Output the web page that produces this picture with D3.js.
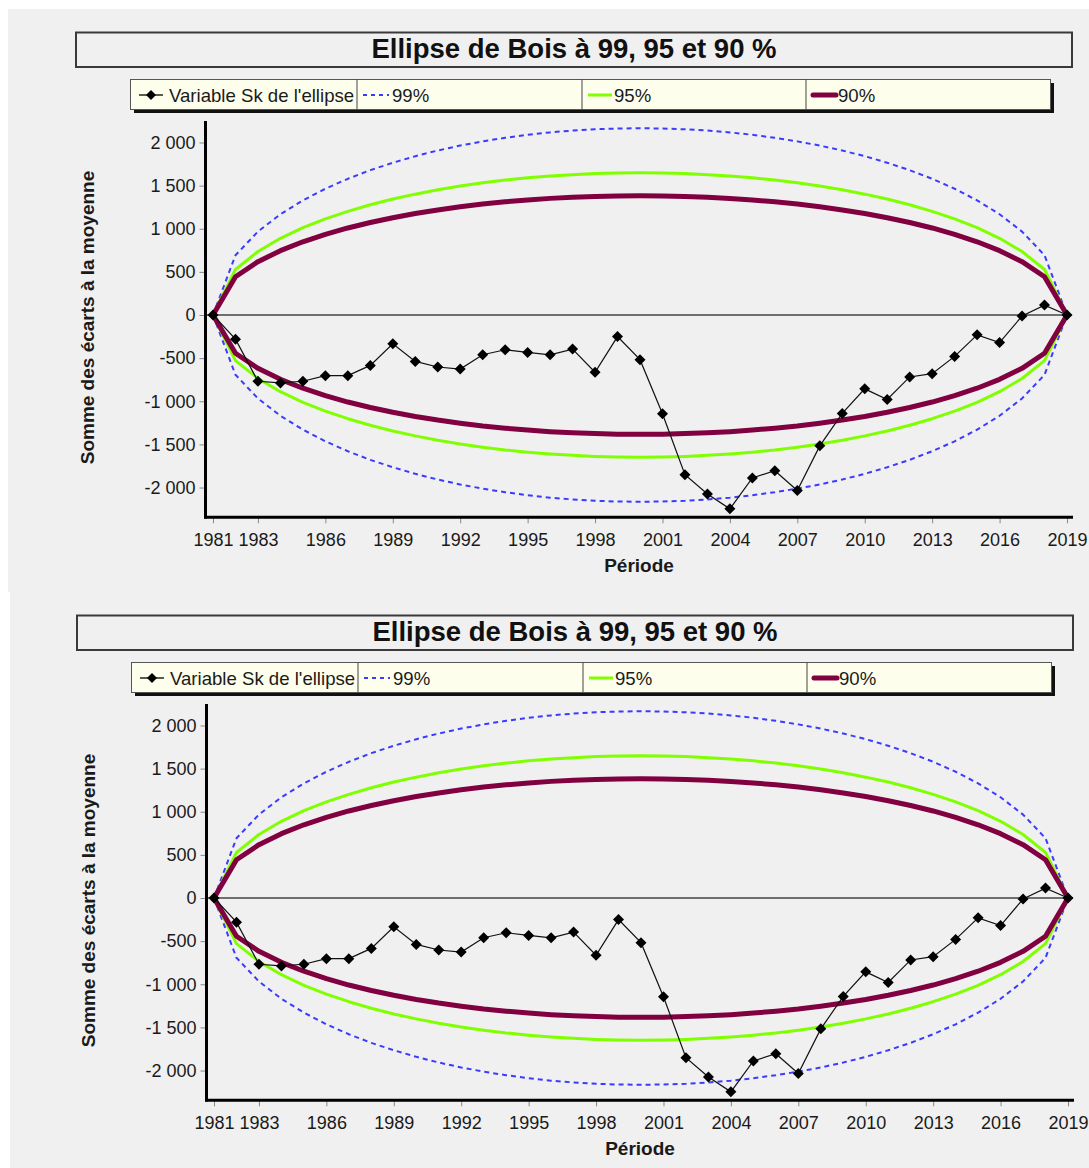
<!DOCTYPE html>
<html><head><meta charset="utf-8">
<script src="https://cdn.jsdelivr.net/npm/d3@7"></script>
<style>
body{margin:0;background:#fff;}
svg{display:block;font-family:"Liberation Sans",Arial,sans-serif;}
</style></head>
<body>
<svg id="c" width="1089" height="1168"></svg>
<script>
const years = [1981,1982,1983,1984,1985,1986,1987,1988,1989,1990,1991,1992,1993,1994,1995,1996,1997,1998,1999,2000,
  2001,2002,2003,2004,2005,2006,2007,2008,2009,2010,2011,2012,2013,2014,2015,2016,2017,2018,2019];
const skValues = [0,-280,-768,-787,-768,-703,-703,-584,-334,-538,-603,-626,-461,-403,-434,-461,-395,-664,-250,-518,
  -1144,-1851,-2074,-2247,-1889,-1805,-2035,-1517,-1141,-856,-979,-718,-680,-480,-230,-319,-12,115,0];
const ellipse99 = [0,693,967,1168,1329,1464,1579,1679,1765,1841,1907,1964,2013,2054,2089,2117,2138,2153,2162,2165,
  2162,2153,2138,2117,2089,2054,2013,1964,1907,1841,1765,1679,1579,1464,1329,1168,967,693,0];
const ellipse95 = [0,528,736,889,1012,1114,1202,1278,1344,1401,1451,1495,1532,1564,1590,1611,1627,1639,1646,1648,
  1646,1639,1627,1611,1590,1564,1532,1495,1451,1401,1344,1278,1202,1114,1012,889,736,528,0];
const ellipse90 = [0,443,618,746,849,935,1009,1072,1128,1176,1218,1254,1286,1312,1334,1352,1366,1375,1381,1383,
  1381,1375,1366,1352,1334,1312,1286,1254,1218,1176,1128,1072,1009,935,849,746,618,443,0];
const yTicks = [-2000,-1500,-1000,-500,0,500,1000,1500,2000];
const xTicks = [1981,1983,1986,1989,1992,1995,1998,2001,2004,2007,2010,2013,2016,2019];
const titleText = "Ellipse de Bois à 99, 95 et 90 %";
const legendLabels = ["Variable Sk de l'ellipse","99%","95%","90%"];
const yTitle = "Somme des écarts à la moyenne";
const xTitle = "Période";

const fr = d3.formatLocale({decimal:",",thousands:"\u00a0",grouping:[3],currency:["",""],minus:"-"});
const fmt = fr.format(",");

const svg = d3.select("#c");
svg.append("rect").attr("x",8).attr("y",9).attr("width",1081).attr("height",583).attr("fill","#f0f0f0");
svg.append("rect").attr("x",10).attr("y",592).attr("width",1079).attr("height",576).attr("fill","#f0f0f0");

const COL99="#3b3bff", COL95="#80ff00", COL90="#800040";

function diamond(g, cx, cy, r){
  g.append("path").attr("d",`M${cx},${cy-r}L${cx+r},${cy}L${cx},${cy+r}L${cx-r},${cy}Z`).attr("fill","#000");
}

function drawPanel(dx, dy){
  const g = svg.append("g").attr("transform",`translate(${dx},${dy})`);
  g.append("rect").attr("x",76).attr("y",32.5).attr("width",996).attr("height",34.5)
    .attr("fill","#f0f0f0").attr("stroke","#3a3a3a").attr("stroke-width",2);
  g.append("text").attr("x",574).attr("y",58).attr("text-anchor","middle")
    .attr("font-size",27.5).attr("font-weight","bold").attr("fill","#111").text(titleText);
  g.append("rect").attr("x",134).attr("y",83).attr("width",920).attr("height",30).attr("fill","#111");
  g.append("rect").attr("x",130.5).attr("y",79.5).attr("width",920).attr("height",30)
    .attr("fill","#fefeec").attr("stroke","#555").attr("stroke-width",1);
  [357,582,806].forEach(xx=>g.append("line").attr("x1",xx).attr("x2",xx).attr("y1",79.5).attr("y2",109.5)
    .attr("stroke","#444").attr("stroke-width",1));
  const ly = 95;
  g.append("line").attr("x1",139).attr("x2",163).attr("y1",ly).attr("y2",ly).attr("stroke","#000").attr("stroke-width",1.3);
  diamond(g,151,ly,5);
  g.append("line").attr("x1",363).attr("x2",389).attr("y1",ly).attr("y2",ly).attr("stroke",COL99)
    .attr("stroke-width",2).attr("stroke-dasharray","4,4");
  g.append("line").attr("x1",588).attr("x2",612).attr("y1",ly).attr("y2",ly).attr("stroke",COL95).attr("stroke-width",3);
  g.append("line").attr("x1",813).attr("x2",836).attr("y1",ly).attr("y2",ly).attr("stroke",COL90)
    .attr("stroke-width",5).attr("stroke-linecap","round");
  const lt = [[169,legendLabels[0]],[392,legendLabels[1]],[614,legendLabels[2]],[838,legendLabels[3]]];
  lt.forEach(([xx,t])=>g.append("text").attr("x",xx).attr("y",101.5).attr("font-size",18.6).attr("fill","#1a1a1a").text(t));

  const x = d3.scaleLinear().domain([1981,2019]).range([213,1067]);
  const y = d3.scaleLinear().domain([-2345,2249]).range([517.3,121]);

  const ya = g.append("g").attr("transform","translate(205.5,0)")
    .call(d3.axisLeft(y).tickValues(yTicks).tickFormat(fmt).tickSize(6).tickPadding(4));
  ya.select(".domain").remove();
  ya.selectAll(".tick line").attr("stroke","#888");
  ya.selectAll(".tick text").attr("font-size",18).attr("fill","#1a1a1a").attr("font-family","Liberation Sans, Arial, sans-serif");
  const xa = g.append("g").attr("transform","translate(0,517.3)")
    .call(d3.axisBottom(x).tickValues(xTicks).tickFormat(d3.format("d")).tickSize(6).tickPadding(10));
  xa.select(".domain").remove();
  xa.selectAll(".tick line").attr("stroke","#888");
  xa.selectAll(".tick text").attr("font-size",18).attr("fill","#1a1a1a").attr("font-family","Liberation Sans, Arial, sans-serif");

  g.append("line").attr("x1",205).attr("x2",1072).attr("y1",y(0)).attr("y2",y(0)).attr("stroke","#444").attr("stroke-width",1.5);

  const line = (arr, sign) => d3.line().x((d,i)=>x(years[i])).y((d)=>y(sign*d))(arr);
  [[ellipse99,COL99,2,"5,4"],[ellipse95,COL95,3,null],[ellipse90,COL90,5,null]].forEach(([arr,c,w,da])=>{
    [1,-1].forEach(s=>{
      const p = g.append("path").attr("d",line(arr,s)).attr("fill","none").attr("stroke",c).attr("stroke-width",w)
        .attr("stroke-linejoin","round");
      if(da) p.attr("stroke-dasharray",da);
    });
  });
  g.append("path").attr("d",line(skValues,1)).attr("fill","none").attr("stroke","#111").attr("stroke-width",1.2);
  skValues.forEach((v,i)=>diamond(g,x(years[i]),y(v),5.5));

  g.append("line").attr("x1",205.5).attr("x2",205.5).attr("y1",121).attr("y2",518.5).attr("stroke","#000").attr("stroke-width",3);
  g.append("line").attr("x1",204).attr("x2",1073).attr("y1",517.3).attr("y2",517.3).attr("stroke","#000").attr("stroke-width",3);

  g.append("text").attr("transform","translate(94,317.5) rotate(-90)").attr("text-anchor","middle")
    .attr("font-size",19).attr("font-weight","bold").attr("fill","#1a1a1a").text(yTitle);
  g.append("text").attr("x",639).attr("y",572).attr("text-anchor","middle")
    .attr("font-size",19).attr("font-weight","bold").attr("fill","#1a1a1a").text(xTitle);
}
drawPanel(0,0);
drawPanel(1,583);
</script>
</body></html>
